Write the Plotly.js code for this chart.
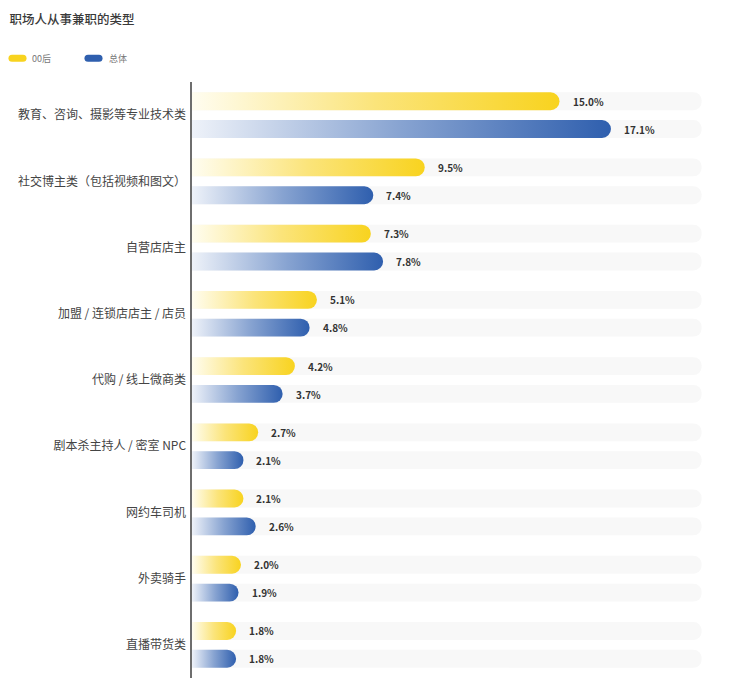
<!DOCTYPE html>
<html>
<head>
<meta charset="utf-8">
<script src="https://cdn.plot.ly/plotly-3.0.1.min.js"></script>
<style>
  html, body { margin: 0; padding: 0; background: #fff; }
  #chart { width: 737px; height: 694px; }
</style>
</head>
<body>
<div id="chart"></div>
<script>
const categories = [
  '教育、咨询、摄影等专业技术类',
  '社交博主类（包括视频和图文）',
  '自营店店主',
  '加盟 / 连锁店店主 / 店员',
  '代购 / 线上微商类',
  '剧本杀主持人 / 密室 NPC',
  '网约车司机',
  '外卖骑手',
  '直播带货类'
];
const gen00 = [15.0, 9.5, 7.3, 5.1, 4.2, 2.7, 2.1, 2.0, 1.8];
const overall = [17.1, 7.4, 7.8, 4.8, 3.7, 2.1, 2.6, 1.9, 1.8];
const seriesNames = ['00后', '总体'];
const trackMax = 20.8;

const FONT = '"Noto Sans CJK SC", "Noto Sans", sans-serif';
const BAR_W = 0.27;
const TOP_OFF = -0.345;
const BOT_OFF = 0.075;

function track(offset) {
  return {
    type: 'bar', orientation: 'h',
    y: categories, x: categories.map(() => trackMax),
    offset: offset, width: BAR_W,
    marker: { color: '#f8f8f8', cornerradius: 9 },
    hoverinfo: 'skip', showlegend: false
  };
}

const data = [
  track(TOP_OFF),
  track(BOT_OFF),
  {
    type: 'bar', orientation: 'h', name: seriesNames[0],
    y: categories, x: gen00, offset: TOP_OFF, width: BAR_W,
    marker: { color: '#f8d31f', cornerradius: 9 },
    hoverinfo: 'skip', showlegend: false
  },
  {
    type: 'bar', orientation: 'h', name: seriesNames[1],
    y: categories, x: overall, offset: BOT_OFF, width: BAR_W,
    marker: { color: '#2f5fae', cornerradius: 9 },
    hoverinfo: 'skip', showlegend: false
  }
];

const valueLabels = [];
categories.forEach((c, i) => {
  valueLabels.push({
    x: gen00[i], y: c, xref: 'x', yref: 'y', yshift: 14, xshift: 11,
    text: gen00[i].toFixed(1) + '%', showarrow: false, xanchor: 'left',
    font: { family: FONT, size: 10, color: '#333', weight: 700 }
  });
  valueLabels.push({
    x: overall[i], y: c, xref: 'x', yref: 'y', yshift: -14, xshift: 11,
    text: overall[i].toFixed(1) + '%', showarrow: false, xanchor: 'left',
    font: { family: FONT, size: 10, color: '#333', weight: 700 }
  });
});

// legend drawn by hand
const legendItems = [
  { name: seriesNames[0], color: '#f8d31f', x0: -0.3340, x1: -0.3135, tx: -0.3006 },
  { name: seriesNames[1], color: '#2f5fae', x0: -0.1930, x1: -0.1725, tx: -0.1577 }
];
const legendShapes = legendItems.map((it) => ({
  type: 'line', xref: 'paper', yref: 'paper',
  x0: it.x0, x1: it.x1, y0: 1.040, y1: 1.040,
  line: { color: it.color, width: 7 }
}));
const legendText = legendItems.map((it) => ({
  x: it.tx, y: 1.040, xref: 'paper', yref: 'paper', xanchor: 'left', yanchor: 'middle',
  text: it.name, showarrow: false,
  font: { family: FONT, size: 9, color: '#777' }
}));

const layout = {
  width: 737, height: 694,
  margin: { l: 192, r: 6, t: 82, b: 16 },
  paper_bgcolor: '#fff', plot_bgcolor: '#fff',
  font: { family: FONT, color: '#444' },
  title: {
    text: '职场人从事兼职的类型',
    x: 0.013, xref: 'container', xanchor: 'left',
    y: 0.972, yref: 'container', yanchor: 'middle',
    font: { family: FONT, size: 12.5, color: '#3a3a3a', weight: 500 }
  },
  barmode: 'overlay',
  barcornerradius: 9,
  showlegend: false,
  xaxis: { range: [0, 22], visible: false, fixedrange: true },
  yaxis: {
    type: 'category', categoryarray: categories, range: [8.5, -0.5],
    showline: true, linecolor: '#6e6e6e', linewidth: 2.5,
    showgrid: false, zeroline: false, ticks: '', ticklabelstandoff: 1,
    tickfont: { family: FONT, size: 12, color: '#444' }, fixedrange: true
  },
  annotations: valueLabels.concat(legendText),
  shapes: legendShapes
};

// round the far end of a plain rectangle bar path if plotly left it square
function roundEnd(p) {
  const d = p.getAttribute('d') || '';
  if (/[ACQ]/i.test(d)) return;
  const n = (d.match(/-?\d+(\.\d+)?/g) || []).map(Number);
  if (n.length < 4) return;
  const x0 = n[0], ya = Math.min(n[1], n[2]), yb = Math.max(n[1], n[2]), x1 = n[3];
  const h = yb - ya, w = x1 - x0;
  if (w <= 0 || h <= 0) return;
  const r = Math.min(h / 2, w);
  p.setAttribute('d',
    `M${x0},${ya}H${x1 - r}A${r},${r} 0 0 1 ${x1},${ya + r}` +
    `V${yb - r}A${r},${r} 0 0 1 ${x1 - r},${yb}H${x0}Z`);
}

function addGradients(gd) {
  const svg = gd.querySelector('svg.main-svg');
  const ns = 'http://www.w3.org/2000/svg';
  let defs = svg.querySelector('defs');
  if (!defs) { defs = document.createElementNS(ns, 'defs'); svg.insertBefore(defs, svg.firstChild); }
  const grads = {
    gradY: [[0, '#fffdf0'], [0.5, '#fbe47a'], [1, '#f8d31f']],
    gradB: [[0, '#eef2f9'], [0.5, '#87a3d1'], [1, '#2f5fae']]
  };
  Object.keys(grads).forEach((id) => {
    const g = document.createElementNS(ns, 'linearGradient');
    g.setAttribute('id', id);
    g.setAttribute('x1', '0'); g.setAttribute('x2', '1');
    g.setAttribute('y1', '0'); g.setAttribute('y2', '0');
    grads[id].forEach(([o, c]) => {
      const s = document.createElementNS(ns, 'stop');
      s.setAttribute('offset', o); s.setAttribute('stop-color', c);
      g.appendChild(s);
    });
    defs.appendChild(g);
  });
  const traces = gd.querySelectorAll('.barlayer .trace');
  const fills = [null, null, 'url(#gradY)', 'url(#gradB)'];
  traces.forEach((t, i) => {
    t.querySelectorAll('path').forEach((p) => {
      roundEnd(p);
      if (fills[i]) p.style.fill = fills[i];
    });
  });
  gd.querySelectorAll('.shapelayer path').forEach((p) => {
    p.style.strokeLinecap = 'round';
  });
}

Plotly.newPlot('chart', data, layout, { displayModeBar: false, staticPlot: true })
  .then(addGradients);
</script>
</body>
</html>
